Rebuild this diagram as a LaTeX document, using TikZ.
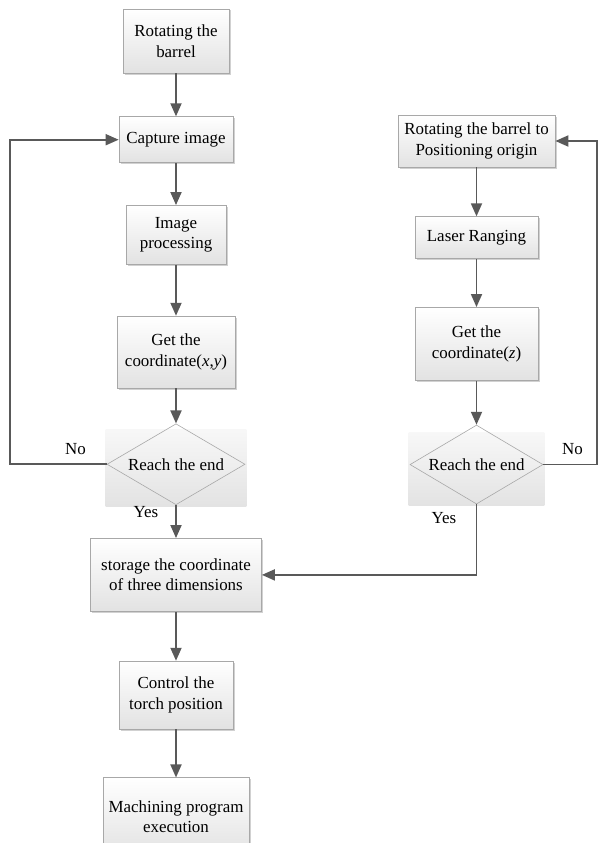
\documentclass[tikz,border=0pt]{standalone}
\usepackage{fontspec}
\setmainfont{Liberation Serif}
\usetikzlibrary{shapes.geometric, arrows.meta, shadows, backgrounds, calc}
\usetikzlibrary{positioning}
\definecolor{arrowgray}{HTML}{595959}
\definecolor{boxline}{HTML}{A8A8A8}
\definecolor{boxbottom}{HTML}{E2E2E2}
\tikzstyle{process} = [rectangle, draw=boxline, line width=0.7bp, top color=white, bottom color=boxbottom, drop shadow={shadow xshift=1.5bp, shadow yshift=-1.5bp, fill=black!30, opacity=0.6}, align=center, inner sep=0pt, font=\fontsize{17}{20.5}\selectfont]
\tikzstyle{decision} = [diamond, aspect=1.7, draw=boxline, line width=0.6bp, inner sep=0pt, minimum width=138bp, minimum height=81bp, font=\fontsize{17}{20.5}\selectfont]
\tikzstyle{decbg} = [top color=black!3, bottom color=black!11]
\tikzstyle{answer} = [inner sep=0pt, font=\fontsize{17}{20.5}\selectfont]
\tikzstyle{arrow} = [line width=1.8bp, draw=arrowgray, -{Triangle[width=11bp,length=13bp]}]

\begin{document}
\begin{tikzpicture}[x=1bp, y=1bp, node distance=43bp]
		\useasboundingbox (0,0) rectangle (598,-843);

		\node (rot) [process, minimum width=106bp, minimum height=64bp] at (176,-41) {Rotating the\\barrel};
		\node (cap) [process, below=43bp of rot, minimum width=114bp, minimum height=46bp] {Capture image};
		\node (proc) [process, below=42bp of cap, minimum width=100bp, minimum height=59bp] {Image\\processing};
		\node (getxy) [process, below=51bp of proc, minimum width=118bp, minimum height=72bp] {Get the\\coordinate(\textit{x},\textit{y})};

		\node (endxy) [decision, below=35bp of getxy] {Reach the end};

		\node (store) [process, below=33bp of endxy, minimum width=171bp, minimum height=73bp] {storage the coordinate\\of three dimensions};
		\node (torch) [process, below=49bp of store, minimum width=114bp, minimum height=68bp] {Control the\\torch position};
		\node (machining) [process, below=48bp of torch, minimum width=146bp, minimum height=78bp] {Machining program\\execution};

		\node (origin) [process, minimum width=157bp, minimum height=52bp] at (476.5,-141) {Rotating the barrel to\\Positioning origin};
		\node (laser) [process, below=49bp of origin, minimum width=123bp, minimum height=42bp] {Laser Ranging};
		\node (getz) [process, below=48bp of laser, minimum width=123bp, minimum height=73bp] {Get the\\coordinate(\textit{z})};

		\node (endz) [decision, below=44bp of getz, minimum width=133bp, minimum height=79bp] {Reach the end};

		\begin{scope}[on background layer]
			\shade[decbg] ($(endxy.north -| endxy.west)+(-1,-6)$) rectangle ($(endxy.south -| endxy.east)+(1,-1)$);
			\shade[decbg] ($(endz.north -| endz.west)+(-1,-8)$) rectangle ($(endz.south -| endz.east)+(1,-1)$);
		\end{scope}

		\node (noxy) [answer] at (75.5,-449) {No};
		\node (yesxy) [answer] at (146,-512) {Yes};
		\node (noz) [answer] at (572.5,-449) {No};
		\node (yesz) [answer] at (444,-518) {Yes};

		\coordinate (backxy) at ($(endxy.west)+(-97,0)$);
		\coordinate (backz) at ($(endz.east)+(54,0)$);

		\draw [arrow] (rot) -- (cap);
		\draw [arrow] (cap) -- (proc);
		\draw [arrow] (proc) -- (getxy);
		\draw [arrow] (getxy) -- (endxy);
		\draw [arrow] (endxy) -- (store);
		\draw [arrow] (store) -- (torch);
		\draw [arrow] (torch) -- (machining);
		\draw [arrow] (endxy.west) -- (backxy) |- (cap.west);

		\draw [arrow] (origin) -- (laser);
		\draw [arrow] (laser) -- (getz);
		\draw [arrow] (getz) -- (endz);
		\draw [arrow] (endz.east) -- (backz) |- (origin.east);
		\draw [arrow] (endz.south) |- (store.east);
	\end{tikzpicture}
\end{document}
